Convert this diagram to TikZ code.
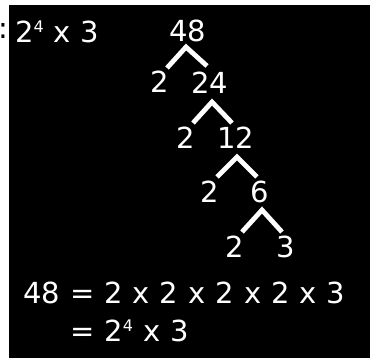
\documentclass[tikz,border=0pt]{standalone}
\usepackage{fontspec}
\setmainfont{DejaVu Sans}
\usetikzlibrary{calc}

\newcommand{\expo}[1]{\raisebox{10pt}{\fontsize{16}{16}\selectfont #1}}

\begin{document}
\begin{tikzpicture}[
    x=1pt, y=-1pt,
    factNum/.style={
        text=white, inner sep=0pt, anchor=base,
        font=\fontsize{29}{34}\selectfont
    },
    eqText/.style={
        text=white, inner sep=0pt, anchor=base west,
        font=\fontsize{29}{34}\selectfont,
        execute at begin node={\spaceskip=10pt\relax}
    },
    branchLine/.style={
        draw=white, line width=4.8pt
    }
]

    % Board
    \useasboundingbox (0,0) rectangle (370,358);
    \fill[white] (0,0) rectangle (370,358);
    \fill[black] (9,5.5) rectangle (370,358);
    \node[text=black, inner sep=0pt, font=\fontsize{29}{34}\selectfont] (cut) at (3.5,31) {:};

    % Heading
    \node[eqText] (head) at (15,43) {2\expo{4} x 3};

    % Factor tree
    \node[factNum] (n48) at (188,42) {48};
    \node[factNum] (n2a) at (160,93) {2};
    \node[factNum] (n24) at (210,94) {24};
    \node[factNum] (n2b) at (186,149) {2};
    \node[factNum] (n12) at (236,149) {12};
    \node[factNum] (n2c) at (210,203) {2};
    \node[factNum] (n6) at (260,203) {6};
    \node[factNum] (n2d) at (235,258) {2};
    \node[factNum] (n3) at (286,258) {3};

    % Branches
    \draw[branchLine] ($(n2a.base)+(7,-25)$) -- ($(n48.base)+(-2,5)$) -- ($(n24.base)+(-3,-28)$);
    \draw[branchLine] ($(n2b.base)+(7,-26)$) -- ($(n24.base)+(2,8)$) -- ($(n12.base)+(-4,-26)$);
    \draw[branchLine] ($(n2c.base)+(7,-26)$) -- ($(n12.base)+(1,8)$) -- ($(n6.base)+(-3,-26)$);
    \draw[branchLine] ($(n2d.base)+(7,-26)$) -- ($(n6.base)+(2,7)$) -- ($(n3.base)+(-4,-26)$);

    % Result
    \node[eqText] (res1) at (23,304) {48 = 2 x 2 x 2 x 2 x 3};
    \node[eqText] (res2) at (70,342) {= 2\expo{4} x 3};

\end{tikzpicture}
\end{document}
